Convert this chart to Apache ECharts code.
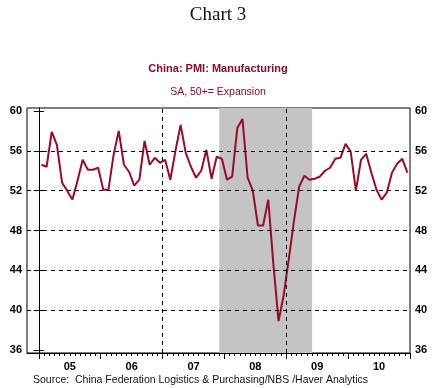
<!DOCTYPE html>
<html><head><meta charset="utf-8">
<script src="https://cdn.jsdelivr.net/npm/echarts@6/dist/echarts.min.js"></script>
<style>html,body{margin:0;padding:0;background:#fff}#c{width:436px;height:388px}</style>
</head><body><div id="c"></div>
<script>
// Monthly PMI, Jan 2005 .. Dec 2010
const pmi2005 = [54.6, 54.4, 57.9, 56.6, 52.8, 52.0, 51.1, 53.0, 55.1, 54.1, 54.1, 54.3];
const pmi2006 = [52.1, 52.1, 55.6, 58.0, 54.6, 53.9, 52.5, 53.1, 57.0, 54.6, 55.3, 54.8];
const pmi2007 = [55.1, 53.1, 56.0, 58.6, 55.8, 54.4, 53.3, 54.0, 56.1, 53.2, 55.4, 55.2];
const pmi2008 = [53.1, 53.4, 58.3, 59.2, 53.3, 52.0, 48.5, 48.5, 51.1, 44.6, 38.9, 41.5];
const pmi2009 = [45.2, 49.0, 52.4, 53.5, 53.1, 53.2, 53.4, 54.0, 54.3, 55.2, 55.3, 56.7];
const pmi2010 = [55.9, 52.0, 55.1, 55.7, 53.8, 52.1, 51.1, 51.8, 53.8, 54.7, 55.2, 53.8];
const yearLabels = ['05', '06', '07', '08', '09', '10'];
const yTicks = [36, 40, 44, 48, 52, 56, 60];
const yGrid = [40, 44, 48, 52, 56];
const vLinesMonth = [0, 24, 48];          // Jan 2005, Jan 2007, Jan 2009
const recession = [35, 53];               // Dec 2007 .. Jun 2009 (month index)

const values = [].concat(pmi2005, pmi2006, pmi2007, pmi2008, pmi2009, pmi2010);
const pts = values.map((v, i) => [i + 0.5, v]);
const yearTicks = yearLabels.map((_, i) => i * 12).concat([yearLabels.length * 12]);
const monthTicks = [];
for (let m = 1; m < values.length; m++) if (m % 12 !== 0) monthTicks.push(m);
const labelPos = yearLabels.map((_, i) => i * 12 + 6);

const red = '#990A2E';
const axisFont = {fontFamily: 'Liberation Sans', fontWeight: 'bold', fontSize: 11, color: '#000'};

const chart = echarts.init(document.getElementById('c'), null, {renderer: 'canvas'});
chart.setOption({
  animation: false,
  backgroundColor: '#fff',
  title: [
    {text: 'Chart 3', left: 'center', top: 1,
     textStyle: {fontFamily: 'Liberation Serif', fontSize: 19, fontWeight: 'normal', color: '#111'}},
    {text: 'China: PMI: Manufacturing', left: 'center', top: 58,
     textStyle: {fontFamily: 'Liberation Sans', fontSize: 11, fontWeight: 'bold', color: '#8C0A2A'}},
    {text: 'SA, 50+= Expansion', left: 'center', top: 82,
     textStyle: {fontFamily: 'Liberation Sans', fontSize: 10.5, fontWeight: 'normal', color: '#8C0A2A'}},
    {text: 'Source:  China Federation Logistics & Purchasing/NBS /Haver Analytics', left: 28, top: 370,
     textStyle: {fontFamily: 'Liberation Sans', fontSize: 10.5, fontWeight: 'normal', color: '#111'}}
  ],
  grid: {left: 27, right: 26, top: 108, bottom: 35, show: true, borderColor: '#000', borderWidth: 1, backgroundColor: 'transparent'},
  xAxis: [
    {type: 'value', position: 'bottom', min: -2.3, max: 72,
     axisLine: {show: true, lineStyle: {color: '#000', width: 1}},
     axisTick: {show: true, length: 6, customValues: yearTicks, lineStyle: {color: '#000'}},
     axisLabel: {show: true, customValues: labelPos, margin: 8,
       formatter: v => yearLabels[Math.round((v - 6) / 12)], ...axisFont},
     splitLine: {show: false}},
    {type: 'value', position: 'bottom', min: -2.3, max: 72,
     axisLine: {show: false},
     axisTick: {show: true, length: 3, customValues: monthTicks, lineStyle: {color: '#000'}},
     axisLabel: {show: false}, splitLine: {show: false}}
  ],
  yAxis: [
    {type: 'value', position: 'left', min: 35.7, max: 60.3,
     axisLine: {show: true, lineStyle: {color: '#000'}},
     axisTick: {show: true, length: 5, customValues: yTicks, lineStyle: {color: '#000'}},
     axisLabel: {show: true, customValues: yTicks, margin: 5, ...axisFont},
     splitLine: {show: false}},
    {type: 'value', position: 'right', min: 35.7, max: 60.3,
     axisLine: {show: true, lineStyle: {color: '#000'}},
     axisTick: {show: true, length: 5, customValues: yTicks, lineStyle: {color: '#000'}},
     axisLabel: {show: true, customValues: yTicks, margin: 5, ...axisFont},
     splitLine: {show: false}}
  ],
  series: [
    {type: 'line', data: pts, symbol: 'none', z: 1, silent: true,
     lineStyle: {opacity: 0},
     markArea: {silent: true, itemStyle: {color: '#C4C4C4'},
       data: [[{xAxis: recession[0]}, {xAxis: recession[1]}]]}},
    {type: 'line', data: pts, symbol: 'none', z: 2, silent: true,
     lineStyle: {opacity: 0},
     markLine: {silent: true, symbol: 'none', label: {show: false}, animation: false,
       lineStyle: {color: '#000', type: [4, 4], width: 1},
       data: vLinesMonth.map(v => ({xAxis: v})).concat(yGrid.map(v => ({yAxis: v})))}},
    {type: 'line', data: pts, symbol: 'none', z: 3, smooth: false,
     lineStyle: {color: red, width: 2}}
  ]
});
</script></body></html>
